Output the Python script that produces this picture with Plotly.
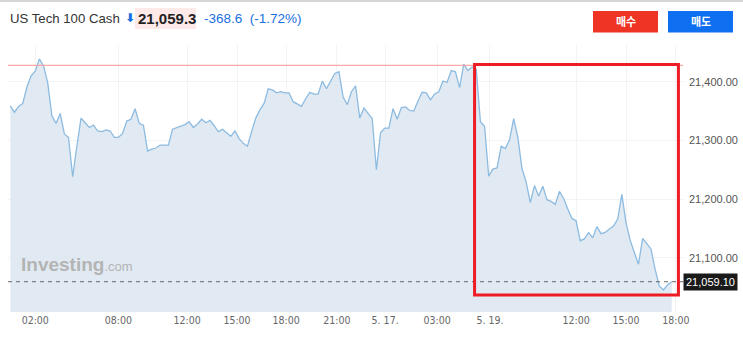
import plotly.graph_objects as go

# ---- data (15-minute closes) ----
prices = [
    21359, 21348, 21358, 21363, 21391, 21410, 21418, 21439, 21427, 21398,
    21342, 21329, 21346, 21311, 21305, 21238, 21290, 21338, 21330, 21322,
    21326, 21316, 21315, 21318, 21316, 21305, 21305, 21312, 21333, 21336,
    21354, 21329, 21326, 21282, 21285, 21287, 21292, 21292, 21292, 21319,
    21322, 21324, 21327, 21332, 21322, 21328, 21336, 21330, 21334, 21325,
    21315, 21319, 21313, 21307, 21316, 21303, 21295, 21290, 21315, 21338,
    21352, 21363, 21388, 21386, 21381, 21383, 21381, 21381, 21366, 21362,
    21358, 21371, 21382, 21379, 21379, 21401, 21388, 21401, 21414, 21417,
    21374, 21361, 21383, 21393, 21338, 21355, 21345, 21337, 21250, 21313,
    21321, 21321, 21354, 21336, 21356, 21357, 21351, 21350, 21367, 21382,
    21381, 21369, 21379, 21383, 21401, 21399, 21419, 21417, 21390, 21430,
    21419, 21425, 21421, 21332, 21324, 21239, 21251, 21253, 21290, 21286,
    21301, 21337, 21305, 21252, 21229, 21194, 21223, 21205, 21222, 21199,
    21196, 21191, 21213, 21201, 21183, 21167, 21163, 21129, 21132, 21143,
    21134, 21153, 21141, 21143, 21149, 21154, 21166, 21208, 21160, 21130,
    21109, 21089, 21133, 21123, 21115, 21080, 21052, 21045, 21054, 21059.1,
]
bar_index = list(range(len(prices)))

x_tick_pos = [6, 26, 42.5, 54.5, 66.3, 78.5, 90.1, 102.6, 115.3, 136, 148, 160]
x_tick_text = ["02:00", "08:00", "12:00", "15:00", "18:00", "21:00", "5. 17.",
               "03:00", "5. 19.", "12:00", "15:00", "18:00"]
y_ticks = [21100, 21200, 21300, 21400]

prev_close = 21427.9
last_price = 21059.1
title_name = "US Tech 100 Cash"
title_price = "21,059.3"
title_change = "-368.6"
title_pct = "(-1.72%)"

# ---- geometry ----
W, H = 743, 345
ML, MR, MT, MB = 8, 60, 45, 33
PW, PH = W - ML - MR, H - MT - MB


def px(xp):
    return (xp - ML) / PW


def py(yp):
    return (H - MB - yp) / PH


fig = go.Figure()
fig.add_trace(go.Scatter(
    x=bar_index, y=prices, mode="lines",
    line=dict(color="#8dbbe0", width=1.3),
    fill="tozeroy", fillcolor="rgba(222,232,242,0.9)",
    hoverinfo="skip",
))

shapes = []
shapes.append(dict(type="line", xref="paper", yref="y", x0=0, x1=1,
                   y0=prev_close, y1=prev_close,
                   line=dict(color="rgba(250,160,160,0.9)", width=1.2), layer="above"))
shapes.append(dict(type="line", xref="paper", yref="y", x0=0, x1=1,
                   y0=last_price, y1=last_price,
                   line=dict(color="#666666", width=1, dash="4px,4px"), layer="above"))
shapes.append(dict(type="rect", xref="x", yref="y", x0=111.6, x1=160.6,
                   y0=21036.4, y1=21429.3,
                   line=dict(color="#ee1c25", width=3), layer="above"))
shapes.append(dict(type="line", xref="paper", yref="paper", x0=px(0), x1=px(W),
                   y0=py(1), y1=py(1), line=dict(color="#d6d6d6", width=2)))
shapes.append(dict(type="rect", xref="paper", yref="paper", x0=px(593), x1=px(658),
                   y0=py(32.5), y1=py(11), fillcolor="#ee3424", line=dict(width=0)))
shapes.append(dict(type="rect", xref="paper", yref="paper", x0=px(668), x1=px(733),
                   y0=py(32.5), y1=py(11), fillcolor="#0e6ff0", line=dict(width=0)))
shapes.append(dict(type="rect", xref="paper", yref="paper", x0=px(135), x1=px(196),
                   y0=py(29), y1=py(8), fillcolor="#fde9e8", line=dict(width=0)))

ann = []
font_hdr = "Liberation Sans, Arial"
ann.append(dict(text=title_name, xref="paper", yref="paper", x=px(8), y=py(18.5),
                xanchor="left", yanchor="middle", showarrow=False,
                font=dict(family=font_hdr, size=13.2, color="#333333")))
ann.append(dict(text="<b>⬇</b>", xref="paper", yref="paper", x=px(123), y=py(18),
                xanchor="left", yanchor="middle", showarrow=False,
                font=dict(family="DejaVu Sans", size=12, color="#1a6fe0")))
ann.append(dict(text="<b>" + title_price + "</b>", xref="paper", yref="paper", x=px(136), y=py(18.5),
                xanchor="left", yanchor="middle", showarrow=False,
                font=dict(family=font_hdr, size=15, color="#222222")))
ann.append(dict(text=title_change + "  " + title_pct, xref="paper", yref="paper", x=px(202), y=py(18.5),
                xanchor="left", yanchor="middle", showarrow=False,
                font=dict(family=font_hdr, size=13.5, color="#1a6fe0")))
ann.append(dict(text="<b>매수</b>", xref="paper", yref="paper", x=px(625.5), y=py(21.5),
                xanchor="center", yanchor="middle", showarrow=False,
                font=dict(family="Noto Sans CJK KR", size=11, color="white")))
ann.append(dict(text="<b>매도</b>", xref="paper", yref="paper", x=px(700.5), y=py(21.5),
                xanchor="center", yanchor="middle", showarrow=False,
                font=dict(family="Noto Sans CJK KR", size=11, color="white")))
ann.append(dict(text="<b>Investing</b><span style='font-size:13px;font-weight:normal'>.com</span>",
                xref="paper", yref="paper", x=px(19), y=py(264.5),
                xanchor="left", yanchor="middle", showarrow=False,
                font=dict(family="Liberation Sans, Arial", size=19, color="#b4b4b4")))
ann.append(dict(text="21,059.10", xref="paper", yref="y", x=1, y=last_price,
                xanchor="left", yanchor="middle", showarrow=False,
                bgcolor="#1a1a1a", borderpad=2, xshift=0,
                font=dict(family="Liberation Sans, Arial", size=11, color="white")))

fig.update_layout(
    width=W, height=H,
    margin=dict(l=ML, r=MR, t=MT, b=MB, autoexpand=False),
    paper_bgcolor="white", plot_bgcolor="white",
    showlegend=False,
    shapes=shapes, annotations=ann,
    xaxis=dict(
        range=[-0.55, 161.7], tickmode="array", tickvals=x_tick_pos, ticktext=x_tick_text,
        showgrid=True, gridcolor="#f1f3f5", gridwidth=1, zeroline=False,
        showline=False, ticks="", automargin=False,
        tickfont=dict(family="Liberation Sans Narrow, DejaVu Sans Condensed, Arial", size=10.5, color="#666666"),
    ),
    yaxis=dict(
        side="right", range=[21007.5, 21462.6], tickmode="array", tickvals=y_ticks,
        tickformat=",.2f", showgrid=True, gridcolor="#f1f3f5", zeroline=False,
        showline=False, ticks="", ticklabelstandoff=5, automargin=False,
        tickfont=dict(family="Liberation Sans, Arial", size=11, color="#555555"),
    ),
)

fig.write_html("out.html")
